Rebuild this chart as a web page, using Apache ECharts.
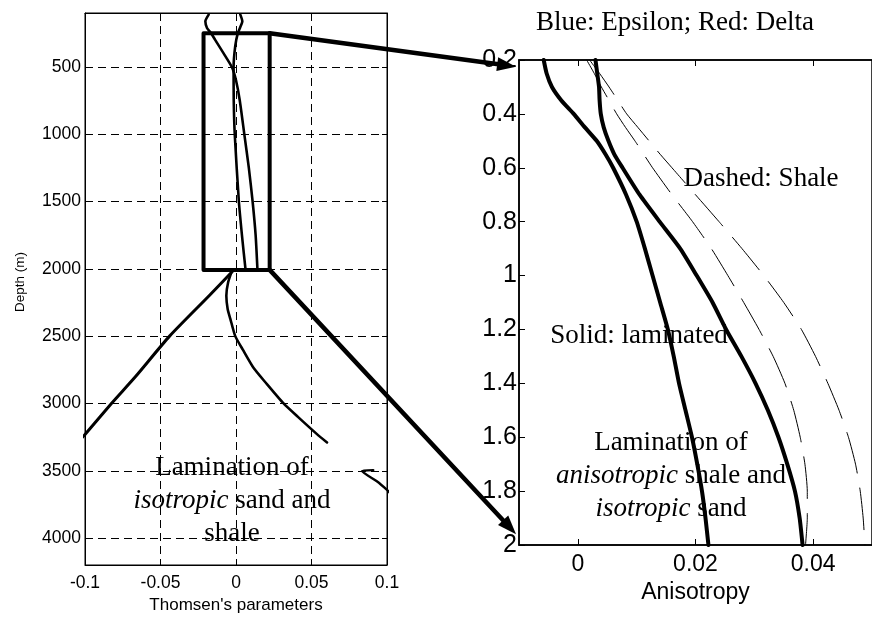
<!DOCTYPE html>
<html>
<head>
<meta charset="utf-8">
<script src="https://cdn.jsdelivr.net/npm/echarts@6/dist/echarts.min.js"></script>
<style>
  html, body { margin: 0; padding: 0; background: #fff; }
  #chart { width: 872px; height: 619px; }
</style>
</head>
<body>
<div id="chart"></div>
<script>
// ---- Left panel: Thomsen's parameters vs depth (m) ----
const depthTicks = [500, 1000, 1500, 2000, 2500, 3000, 3500, 4000];

// upper section, curve starting with the small loop on the left
const upperA_depth = [112, 162, 211, 248, 300, 400, 505, 600, 750, 1000, 1250, 1500, 1750, 2005];
const upperA_value = [-0.0181, -0.0203, -0.0192, -0.0166, -0.0138, -0.0082, -0.0026, 0.0000, 0.0025, 0.0055, 0.0085, 0.0110, 0.0130, 0.0142];

// upper section, near-vertical curve
const upperB_depth = [110, 162, 206, 250, 345, 505, 750, 1008, 1500, 1780, 2005];
const upperB_value = [0.0028, 0.0042, 0.0028, 0.0012, -0.0005, -0.0016, -0.0015, -0.0008, 0.0019, 0.0042, 0.0063];

// lower section, curve bending to the right
const lowerA_depth = [2010, 2100, 2200, 2300, 2370, 2500, 2600, 2737, 2850, 3000, 3100, 3228, 3290];
const lowerA_value = [-0.0025, -0.0052, -0.0064, -0.0055, -0.0038, -0.0005, 0.0045, 0.0117, 0.0200, 0.0315, 0.0410, 0.0536, 0.0603];

// lower section, curve running off to the left
const lowerB_depth = [2013, 2200, 2500, 2800, 3000, 3230, 3260];
const lowerB_value = [-0.0018, -0.0178, -0.0440, -0.0665, -0.0825, -0.1000, -0.1025];

// deep segment coming back in at the right edge
const deep_depth = [3495, 3502, 3580, 3642, 3665];
const deep_value = [0.0909, 0.0834, 0.0935, 0.1000, 0.1020];

// zoom window drawn on the left panel
const boxX = [-0.0215, 0.0223];
const boxDepth = [250, 2008];

// ---- Right panel: anisotropy vs depth (km) ----
const zDepth = [0.2, 0.25, 0.3, 0.35, 0.4, 0.45, 0.5, 0.55, 0.6, 0.7, 0.8, 0.9, 1.0, 1.1, 1.2, 1.3, 1.4, 1.5, 1.6, 1.7, 1.8, 1.9, 2.0];
const epsLaminated   = [-0.0058, -0.0053, -0.0044, -0.0028, -0.0007, 0.0012, 0.0032, 0.0047, 0.0060, 0.0082, 0.0100, 0.0114, 0.0127, 0.0140, 0.0153, 0.0163, 0.0172, 0.0183, 0.0194, 0.0203, 0.0211, 0.0217, 0.0222];
const deltaLaminated = [0.0030, 0.0033, 0.0036, 0.0037, 0.0039, 0.0044, 0.0052, 0.0062, 0.0076, 0.0105, 0.0139, 0.0174, 0.0202, 0.0229, 0.0252, 0.0278, 0.0302, 0.0323, 0.0341, 0.0356, 0.0369, 0.0377, 0.0382];
const epsShale       = [0.0020, 0.0037, 0.0053, 0.0068, 0.0083, 0.0102, 0.0121, 0.0140, 0.0160, 0.0200, 0.0240, 0.0279, 0.0316, 0.0350, 0.0380, 0.0404, 0.0425, 0.0444, 0.0460, 0.0472, 0.0480, 0.0485, 0.0488];
const deltaShale     = [0.0015, 0.0028, 0.0040, 0.0053, 0.0066, 0.0081, 0.0097, 0.0112, 0.0127, 0.0160, 0.0195, 0.0227, 0.0255, 0.0282, 0.0308, 0.0332, 0.0352, 0.0367, 0.0378, 0.0386, 0.0390, 0.0390, 0.0387];
const anisoTicks = [0, 0.02, 0.04];

// where the zoom arrows land on the right panel
const arrowTipX = -0.0105;
const arrowTipDepth = [0.225, 1.96];

const SANS = "'Liberation Sans', Arial, sans-serif";
const SERIF = "'Liberation Serif', 'Times New Roman', serif";

function zip(xs, ys) { return xs.map((x, i) => [x, ys[i]]); }
const plain = v => String(v);

const boxData = [
  [boxX[0], boxDepth[0]], [boxX[1], boxDepth[0]], [boxX[1], boxDepth[1]],
  [boxX[0], boxDepth[1]], [boxX[0], boxDepth[0]]
];

function curve(data, xi, yi, width, dash) {
  return {
    type: 'line', xAxisIndex: xi, yAxisIndex: yi, data: data,
    showSymbol: false, symbol: 'none', smooth: 0.2, silent: true,
    lineStyle: { color: '#000', width: width, type: dash || 'solid', cap: 'round', join: 'round' },
    clip: true, animation: false
  };
}

const axisLineBlack = { show: true, onZero: false, lineStyle: { color: '#000', width: 1 } };
const axisLineRight = { show: true, onZero: false, lineStyle: { color: '#000', width: 1.5 } };
const gridDash = { show: true, lineStyle: { color: '#000', width: 1, type: [8, 5] } };

const option = {
  animation: false,
  backgroundColor: '#fff',
  grid: [
    { left: 85, top: 13, width: 302, height: 555, show: true, borderColor: '#000', borderWidth: 1, backgroundColor: 'transparent' },
    { left: 519, top: 60, width: 362, height: 485, show: true, borderColor: '#000', borderWidth: 1.5, backgroundColor: 'transparent' }
  ],
  xAxis: [
    {
      gridIndex: 0, type: 'value', min: -0.1, max: 0.1, interval: 0.05, position: 'bottom',
      axisLine: axisLineBlack,
      axisTick: { show: true, inside: true, length: 5, lineStyle: { color: '#000' } },
      axisLabel: { color: '#000', fontFamily: SANS, fontSize: 17.5, margin: 9, formatter: plain },
      splitLine: gridDash,
      name: "Thomsen's parameters", nameLocation: 'middle', nameGap: 32,
      nameTextStyle: { color: '#000', fontFamily: SANS, fontSize: 17 }
    },
    {
      gridIndex: 0, type: 'value', min: -0.1, max: 0.1, interval: 0.05, position: 'top',
      axisLine: axisLineBlack,
      axisTick: { show: true, inside: true, length: 5, lineStyle: { color: '#000' } },
      axisLabel: { show: false }, splitLine: { show: false }
    },
    {
      gridIndex: 1, type: 'value', min: -0.01, max: 0.05, position: 'bottom',
      axisLine: axisLineRight,
      axisTick: { show: true, inside: true, length: 6, customValues: anisoTicks, lineStyle: { color: '#000' } },
      axisLabel: { color: '#000', fontFamily: SANS, fontSize: 23, margin: 8, customValues: anisoTicks, formatter: plain },
      splitLine: { show: false },
      name: 'Anisotropy', nameLocation: 'middle', nameGap: 30,
      nameTextStyle: { color: '#000', fontFamily: SANS, fontSize: 23 }
    },
    {
      gridIndex: 1, type: 'value', min: -0.01, max: 0.05, position: 'top',
      axisLine: axisLineRight,
      axisTick: { show: true, inside: true, length: 6, customValues: anisoTicks, lineStyle: { color: '#000' } },
      axisLabel: { show: false }, splitLine: { show: false }
    }
  ],
  yAxis: [
    {
      gridIndex: 0, type: 'value', inverse: true, min: 100, max: 4200, position: 'left',
      axisLine: axisLineBlack,
      axisTick: { show: true, inside: true, length: 5, customValues: depthTicks, lineStyle: { color: '#000' } },
      axisLabel: { color: '#000', fontFamily: SANS, fontSize: 17.5, margin: 4, customValues: depthTicks, formatter: plain },
      splitLine: gridDash
    },
    {
      gridIndex: 0, type: 'value', inverse: true, min: 100, max: 4200, position: 'right',
      axisLine: axisLineBlack,
      axisTick: { show: true, inside: true, length: 5, customValues: depthTicks, lineStyle: { color: '#000' } },
      axisLabel: { show: false }, splitLine: { show: false }
    },
    {
      gridIndex: 1, type: 'value', inverse: true, min: 0.2, max: 2, interval: 0.2, position: 'left',
      axisLine: axisLineRight,
      axisTick: { show: true, inside: true, length: 6, lineStyle: { color: '#000' } },
      axisLabel: { color: '#000', fontFamily: SANS, fontSize: 25, margin: 2 },
      splitLine: { show: false }
    }
  ],
  series: [
    curve(zip(upperA_value, upperA_depth), 0, 0, 2.6),
    curve(zip(upperB_value, upperB_depth), 0, 0, 2.6),
    curve(zip(lowerA_value, lowerA_depth), 0, 0, 2.6),
    curve(zip(lowerB_value, lowerB_depth), 0, 0, 3),
    curve(zip(deep_value, deep_depth), 0, 0, 2.4),
    Object.assign(curve(boxData, 0, 0, 4), { smooth: false }),
    curve(zip(epsShale, zDepth), 2, 2, 1, [42, 15]),
    curve(zip(deltaShale, zDepth), 2, 2, 1, [42, 15]),
    curve(zip(epsLaminated, zDepth), 2, 2, 4),
    curve(zip(deltaLaminated, zDepth), 2, 2, 4)
  ]
};

const chart = echarts.init(document.getElementById('chart'), null, { renderer: 'canvas' });
chart.setOption(option);

// Arrows joining the zoom window corners to the right panel, plus text annotations
function arrow(from, to) {
  const dx = to[0] - from[0], dy = to[1] - from[1];
  const len = Math.sqrt(dx * dx + dy * dy);
  const ux = dx / len, uy = dy / len;
  const headL = 19, headW = 14;
  const bx = to[0] - ux * headL, by = to[1] - uy * headL;
  return [
    { type: 'line', z: 100, silent: true,
      shape: { x1: from[0], y1: from[1], x2: bx + ux * 3, y2: by + uy * 3 },
      style: { stroke: '#000', lineWidth: 4.5, lineCap: 'round' } },
    { type: 'polygon', z: 100, silent: true,
      shape: { points: [to, [bx - uy * headW / 2, by + ux * headW / 2], [bx + uy * headW / 2, by - ux * headW / 2]] },
      style: { fill: '#000' } }
  ];
}

function label(x, y, parts, size) {
  const txt = parts.map(p => '{' + (p[1] ? 'i' : 'n') + '|' + p[0] + '}').join('');
  return {
    type: 'text', x: x, y: y, z: 110, silent: true,
    style: {
      text: txt, align: 'center', verticalAlign: 'middle', fill: '#000',
      rich: {
        n: { fontFamily: SERIF, fontSize: size, fill: '#000' },
        i: { fontFamily: SERIF, fontSize: size, fontStyle: 'italic', fill: '#000' }
      }
    }
  };
}

const topFrom = chart.convertToPixel({ gridIndex: 0 }, [boxX[1], boxDepth[0]]);
const botFrom = chart.convertToPixel({ gridIndex: 0 }, [boxX[1], boxDepth[1]]);
const topTo = chart.convertToPixel({ gridIndex: 1 }, [arrowTipX, arrowTipDepth[0]]);
const botTo = chart.convertToPixel({ gridIndex: 1 }, [arrowTipX, arrowTipDepth[1]]);

const FS = 27;
chart.setOption({
  graphic: [].concat(
    arrow(topFrom, topTo),
    arrow(botFrom, botTo),
    [
      // left panel depth axis title
      { type: 'text', x: 20, y: 282, rotation: Math.PI / 2, silent: true,
        style: { text: 'Depth (m)', align: 'center', verticalAlign: 'middle', fill: '#000',
                 fontFamily: SANS, fontSize: 13.5 } },
      label(675, 23, [['Blue: Epsilon; Red: Delta', false]], FS),
      label(761, 179, [['Dashed: Shale', false]], FS),
      label(639, 336, [['Solid: laminated', false]], FS),
      label(671, 443, [['Lamination of', false]], FS),
      label(671, 476, [['anisotropic', true], [' shale and', false]], FS),
      label(671, 509, [['isotropic', true], [' sand', false]], FS),
      label(232, 468, [['Lamination of', false]], FS),
      label(232, 501, [['isotropic', true], [' sand and', false]], FS),
      label(232, 534, [['shale', false]], FS)
    ]
  )
});
</script>
</body>
</html>
